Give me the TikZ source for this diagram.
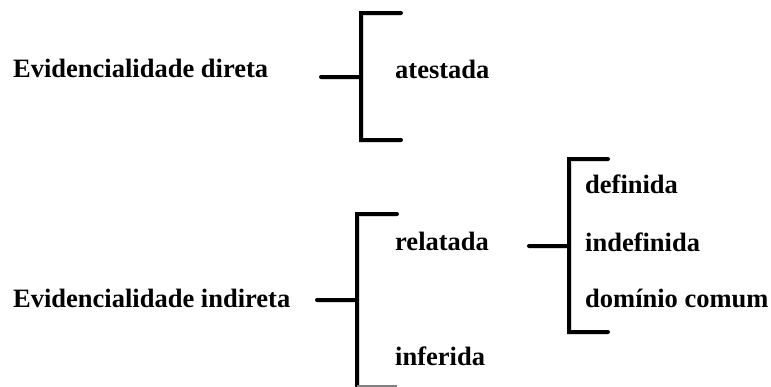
\documentclass[tikz,border=0pt]{standalone}
\usepackage{fontspec}
\setmainfont{Liberation Serif}
\tikzset{
  lbl/.style={anchor=base west, inner sep=0pt, font=\fontsize{26.5}{30}\selectfont\bfseries},
  brk/.style={line width=4pt, line cap=round, line join=miter},
  shd/.style={line width=5pt, draw=black!15, line join=miter}
}
\begin{document}
\begin{tikzpicture}[x=1pt,y=-1pt]
\useasboundingbox (0,0) rectangle (771,386);
% texts
\node[lbl] (dir) at (13,77) {Evidencialidade direta};
\node[lbl] (ates) at (395,78) {atestada};
\node[lbl] (ind) at (13,307) {Evidencialidade indireta};
\node[lbl] (rel) at (395,250) {relatada};
\node[lbl] (inf) at (395,365) {inferida};
\node[lbl] (def) at (585,193) {definida};
\node[lbl] (indef) at (585,251) {indefinida};
\node[lbl] (dom) at (585,307) {domínio comum};
% bracket coordinates
\coordinate (b1s) at (321,77); \coordinate (b1m) at (361,77);
\coordinate (b1t) at (361,13); \coordinate (b1te) at (401,13);
\coordinate (b1b) at (361,140); \coordinate (b1be) at (401,140);
\coordinate (b2s) at (317,300); \coordinate (b2m) at (357,300);
\coordinate (b2t) at (357,214); \coordinate (b2te) at (397,214);
\coordinate (b2b) at (357,386); \coordinate (b2be) at (397,386);
\coordinate (b3s) at (529,246); \coordinate (b3m) at (569,246);
\coordinate (b3t) at (569,159); \coordinate (b3te) at (608,159);
\coordinate (b3b) at (569,332); \coordinate (b3be) at (608,332);
% shadows
\begin{scope}[shift={(1.5,2.5)}]
\draw[shd] (b1te) -- (b1t) -- (b1b) -- (b1be); \draw[shd] (b1s) -- (b1m);
\draw[shd] (b2te) -- (b2t) -- (b2b); \draw[shd] (b2s) -- (b2m);
\draw[shd] (b3te) -- (b3t) -- (b3b) -- (b3be); \draw[shd] (b3s) -- (b3m);
\end{scope}
% brackets
\draw[brk] (b1te) -- (b1t) -- (b1b) -- (b1be);
\draw[brk] (b1s) -- (b1m);
\draw[brk] (b2te) -- (b2t) -- (b2b);
\draw[line width=1.5pt, draw=black!50] (b2b) -- (b2be);
\draw[brk] (b2s) -- (b2m);
\draw[brk] (b3te) -- (b3t) -- (b3b) -- (b3be);
\draw[brk] (b3s) -- (b3m);
\end{tikzpicture}
\end{document}
